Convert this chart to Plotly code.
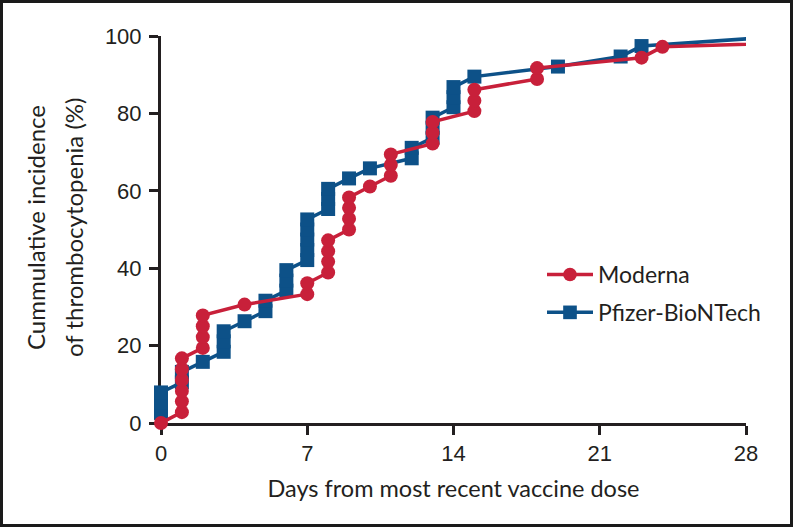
import plotly.graph_objects as go

# ---- data ----
moderna_days = [0, 1, 1, 1, 1, 1, 1, 2, 2, 2, 2, 4, 7, 7, 8, 8, 8, 8, 9, 9, 9, 9,
                10, 11, 11, 11, 13, 13, 13, 15, 15, 15, 18, 18, 23, 24, 40]
moderna_pct = [0, 2.8, 5.6, 8.3, 11.1, 13.9, 16.7, 19.4, 22.2, 25.0, 27.8, 30.6,
               33.3, 36.1, 38.9, 41.7, 44.4, 47.2, 50.0, 52.8, 55.6, 58.3, 61.1,
               63.9, 66.7, 69.4, 72.2, 75.0, 77.8, 80.6, 83.3, 86.1, 88.9, 91.7,
               94.4, 97.2, 100.0]

pfizer_days = [0, 0, 0, 1, 1, 2, 3, 3, 3, 4, 5, 5, 6, 6, 6, 7, 7, 7, 7, 7, 8, 8, 8,
               9, 10, 12, 12, 13, 13, 13, 14, 14, 14, 15, 19, 22, 23, 30]
pfizer_pct = [2.6, 5.3, 7.9, 10.5, 13.2, 15.8, 18.4, 21.1, 23.7, 26.3, 28.9, 31.6,
              34.2, 36.8, 39.5, 42.1, 44.7, 47.4, 50.0, 52.6, 55.3, 57.9, 60.5,
              63.2, 65.8, 68.4, 71.1, 73.7, 76.3, 78.9, 81.6, 84.2, 86.8, 89.5,
              92.1, 94.7, 97.4, 100.0]

x_ticks = [0, 7, 14, 21, 28]
y_ticks = [0, 20, 40, 60, 80, 100]

RED = "#C8203A"
BLUE = "#0D5188"
INK = "#231F20"

W, H = 793, 527
ML, MR, MT, MB = 161, 47, 36, 104
PW, PH = W - ML - MR, H - MT - MB


def px_x(p):
    return (p - ML) / PW


def px_y(p):
    return (H - MB - p) / PH


# the last (end-of-follow-up) points lie beyond the 28-day axis: hide their markers
mod_sizes = [14] * (len(moderna_days) - 1) + [0]
pfz_sizes = [14] * (len(pfizer_days) - 1) + [0]

fig = go.Figure()
fig.add_trace(go.Scatter(
    x=pfizer_days, y=pfizer_pct, name="Pfizer-BioNTech", legendgroup="p", legendrank=2,
    mode="lines+markers", cliponaxis=False,
    line=dict(color=BLUE, width=3.5),
    marker=dict(symbol="square", size=pfz_sizes, color=BLUE, opacity=1,
                line=dict(width=0)),
))
fig.add_trace(go.Scatter(
    x=moderna_days, y=moderna_pct, name="Moderna", legendgroup="m", legendrank=1,
    mode="lines+markers", cliponaxis=False,
    line=dict(color=RED, width=3.5),
    marker=dict(symbol="circle", size=mod_sizes, color=RED, opacity=1,
                line=dict(width=0)),
))

axis_common = dict(
    showline=True, linecolor=INK, linewidth=3, showgrid=False, zeroline=False,
    ticks="outside", ticklen=9, tickwidth=2.5, tickcolor=INK,
    tickfont=dict(family="Liberation Sans, Arial, sans-serif", size=22, color=INK),
    layer="below traces",
)

TITLE_FONT = "Lato, sans-serif"

fig.update_layout(
    width=W, height=H,
    margin=dict(l=ML, r=MR, t=MT, b=MB),
    paper_bgcolor="white", plot_bgcolor="white",
    xaxis=dict(range=[0, 28], tickvals=x_ticks, ticktext=[str(v) for v in x_ticks],
               title=dict(text="Days from most recent vaccine dose",
                          font=dict(family=TITLE_FONT, size=23.5, color=INK),
                          standoff=16),
               **axis_common),
    yaxis=dict(range=[0, 100], tickvals=y_ticks, ticktext=[str(v) for v in y_ticks],
               ticklabelstandoff=3, **axis_common),
    legend=dict(x=px_x(542), y=px_y(253), xanchor="left", yanchor="top",
                traceorder="grouped", tracegroupgap=5,
                font=dict(family="Lato, sans-serif", size=23, color=INK),
                bgcolor="rgba(0,0,0,0)", itemwidth=46),
    showlegend=True,
    annotations=[
        dict(text="Cummulative incidence", textangle=-90, showarrow=False,
             xref="paper", yref="paper", x=px_x(35), y=px_y(228),
             xanchor="center", yanchor="middle",
             font=dict(family=TITLE_FONT, size=24, color=INK)),
        dict(text="of thrombocytopenia (%)", textangle=-90, showarrow=False,
             xref="paper", yref="paper", x=px_x(73), y=px_y(228),
             xanchor="center", yanchor="middle",
             font=dict(family=TITLE_FONT, size=24, color=INK)),
    ],
    shapes=[dict(type="rect", xref="paper", yref="paper",
                 x0=px_x(1.5), x1=px_x(W - 1.5), y0=px_y(H - 1.5), y1=px_y(1.5),
                 line=dict(color="#1a1a1a", width=3), fillcolor="rgba(0,0,0,0)",
                 layer="above")],
)

fig.write_html("out.html",
               config={"displayModeBar": False},
               post_script="document.body.style.margin='0';"
                           "document.body.style.overflow='hidden';")
